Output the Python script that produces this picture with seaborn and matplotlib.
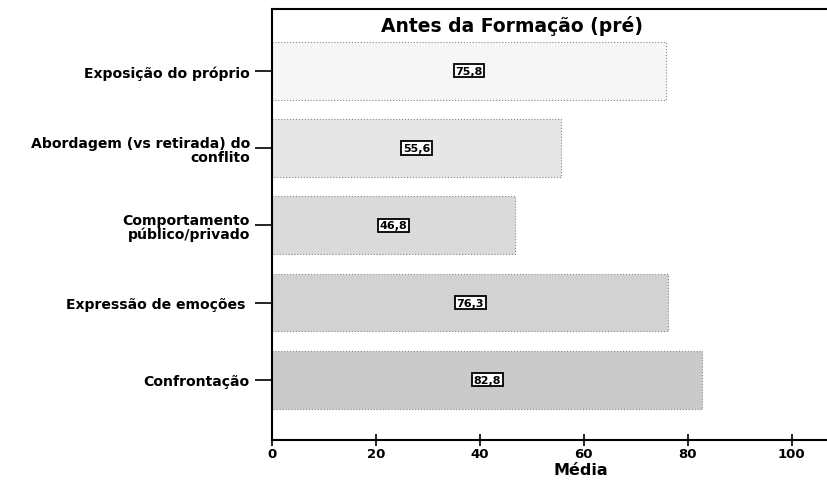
import matplotlib
matplotlib.use("Agg")
import matplotlib.pyplot as plt
import seaborn as sns
import pandas as pd

categories = ["Exposição do próprio", "Abordagem (vs retirada) do\nconflito",
              "Comportamento\npúblico/privado", "Expressão de emoções ", "Confrontação"]
values = [75.8, 55.6, 46.8, 76.3, 82.8]
labels = ["75,8", "55,6", "46,8", "76,3", "82,8"]
colors = ["#f6f6f6", "#e6e6e6", "#dadada", "#d2d2d2", "#cacaca"]

sns.set_theme(style="white")
plt.rcParams['font.family'] = ['DejaVu Sans']
plt.rcParams['text.color'] = 'black'
plt.rcParams['axes.labelcolor'] = 'black'
plt.rcParams['xtick.color'] = 'black'
plt.rcParams['ytick.color'] = 'black'

df = pd.DataFrame({"cat": categories, "val": values})
fig = plt.figure(figsize=(8.28, 4.81), dpi=100)
ax = fig.add_axes([272/828, 1-441/481, 556/828, 431/481])

sns.barplot(data=df, y="cat", x="val", hue="cat", palette=colors, legend=False,
            orient="h", width=0.75, ax=ax, edgecolor="#888888", linewidth=0.8)
for p in ax.patches:
    p.set_linestyle(":")

for i, (v, lab) in enumerate(zip(values, labels)):
    ax.text(v / 2, i, lab, ha="center", va="center", fontsize=8, fontweight="bold",
            bbox=dict(boxstyle="square,pad=0.15", fc="white", ec="black", lw=1.3))

ax.set_xlim(0, 107)
ax.set_ylim(4.78, -0.8)
ax.set_xticks([0, 20, 40, 60, 80, 100])
ax.set_xticklabels(["0", "20", "40", "60", "80", "100"], fontsize=9.5, fontweight="bold")
ax.set_yticks(range(len(categories)))
ax.set_yticklabels(categories, fontsize=10.1, fontweight="bold", ha="right", linespacing=1.0)
ax.tick_params(axis="x", direction="inout", length=8, width=1.2, bottom=True, pad=1)
ax.tick_params(axis="y", direction="out", length=12, width=1.2, left=True, pad=4)
ax.set_xlabel("Média", fontsize=11.5, fontweight="bold")
ax.xaxis.set_label_coords(0.556, -0.052)
ax.set_ylabel("")
ax.text(0.432, 0.985, "Antes da Formação (pré)", transform=ax.transAxes, ha="center", va="top",
        fontsize=13.5, fontweight="bold")
for s in ["left", "bottom", "top"]:
    ax.spines[s].set_visible(True)
    ax.spines[s].set_color("black")
    ax.spines[s].set_linewidth(1.5)
ax.spines["right"].set_visible(False)

fig.savefig("out.png", dpi=100)
